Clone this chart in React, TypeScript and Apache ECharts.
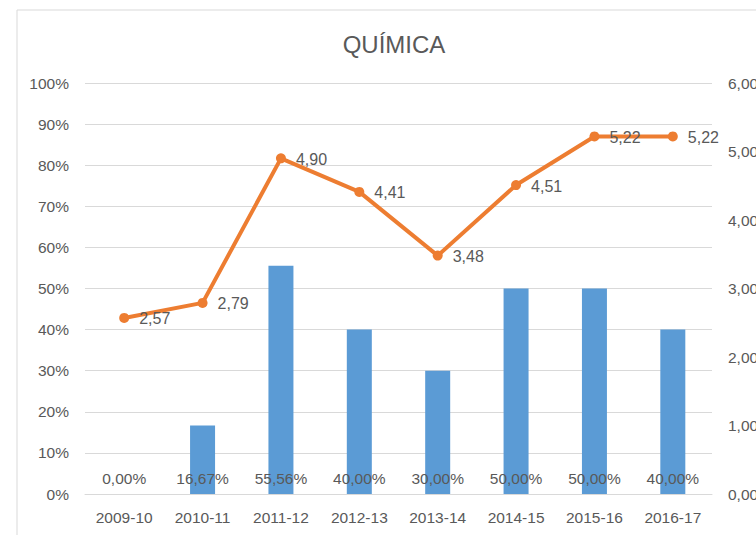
import React, { useEffect, useRef } from "react";
import * as echarts from "echarts";

const title = "QUÍMICA";
const categories = ["2009-10", "2010-11", "2011-12", "2012-13", "2013-14", "2014-15", "2015-16", "2016-17"];
const barValues = [0, 16.67, 55.56, 40, 30, 50, 50, 40];
const lineValues = [2.57, 2.79, 4.9, 4.41, 3.48, 4.51, 5.22, 5.22];
const leftTicks = { min: 0, max: 100, interval: 10 };
const rightTicks = { min: 0, max: 6, interval: 1 };

const FONT = "'Liberation Sans', Arial, sans-serif";
const GREY = "#595959";

const comma = (v: number, d: number) => v.toFixed(d).replace(".", ",");

export default function App() {
  const ref = useRef<HTMLDivElement>(null);
  useEffect(() => {
    if (!ref.current) return;
    const chart = echarts.init(ref.current, undefined, { renderer: "svg" });
    chart.setOption({
      animation: false,
      backgroundColor: "#ffffff",
      textStyle: { fontFamily: FONT },
      graphic: [
        {
          type: "rect",
          shape: { x: 17, y: 10, width: 1000, height: 800 },
          style: { fill: "none", stroke: "#d9d9d9", lineWidth: 1 },
          silent: true,
          z: -10,
        },
        {
          type: "text",
          x: 394,
          y: 44,
          style: {
            text: title,
            fill: GREY,
            font: `24px ${FONT}`,
            align: "center",
            verticalAlign: "middle",
          },
        },
      ],
      grid: { left: 85, top: 83, width: 627, height: 411, containLabel: false },
      xAxis: {
        type: "category",
        data: categories,
        axisLine: { lineStyle: { color: "#d9d9d9", width: 1 } },
        axisTick: { show: false },
        axisLabel: { color: GREY, fontSize: 15.5, fontFamily: FONT, margin: 15 },
      },
      yAxis: [
        {
          type: "value",
          min: leftTicks.min,
          max: leftTicks.max,
          interval: leftTicks.interval,
          axisLine: { show: false },
          axisTick: { show: false },
          splitLine: { lineStyle: { color: "#d9d9d9", width: 1 } },
          axisLabel: {
            color: GREY,
            fontSize: 15.5,
            fontFamily: FONT,
            margin: 16,
            formatter: (v: number) => `${v}%`,
          },
        },
        {
          type: "value",
          min: rightTicks.min,
          max: rightTicks.max,
          interval: rightTicks.interval,
          axisLine: { show: false },
          axisTick: { show: false },
          splitLine: { show: false },
          axisLabel: {
            color: GREY,
            fontSize: 15.5,
            fontFamily: FONT,
            margin: 16,
            formatter: (v: number) => comma(v, 2),
          },
        },
      ],
      series: [
        {
          type: "bar",
          data: barValues,
          yAxisIndex: 0,
          barWidth: 25,
          itemStyle: { color: "#5B9BD5" },
          label: {
            show: true,
            position: "insideBottom",
            distance: 8,
            color: GREY,
            fontSize: 15.5,
            fontFamily: FONT,
            formatter: (p: any) => `${comma(p.value, 2)}%`,
          },
          z: 2,
        },
        {
          type: "line",
          data: lineValues,
          yAxisIndex: 1,
          symbol: "circle",
          symbolSize: 10,
          lineStyle: { color: "#ED7D31", width: 4 },
          itemStyle: { color: "#ED7D31" },
          label: {
            show: true,
            position: "right",
            distance: 10,
            offset: [0, 1],
            color: GREY,
            fontSize: 16,
            fontFamily: FONT,
            formatter: (p: any) => comma(p.value, 2),
          },
          z: 5,
        },
      ],
    });
    return () => chart.dispose();
  }, []);
  return (
    <div
      style={{
        position: "fixed",
        left: 0,
        top: 0,
        width: 756,
        height: 535,
        overflow: "hidden",
        background: "#fff",
      }}
    >
      <div ref={ref} style={{ width: 800, height: 560 }} />
    </div>
  );
}
